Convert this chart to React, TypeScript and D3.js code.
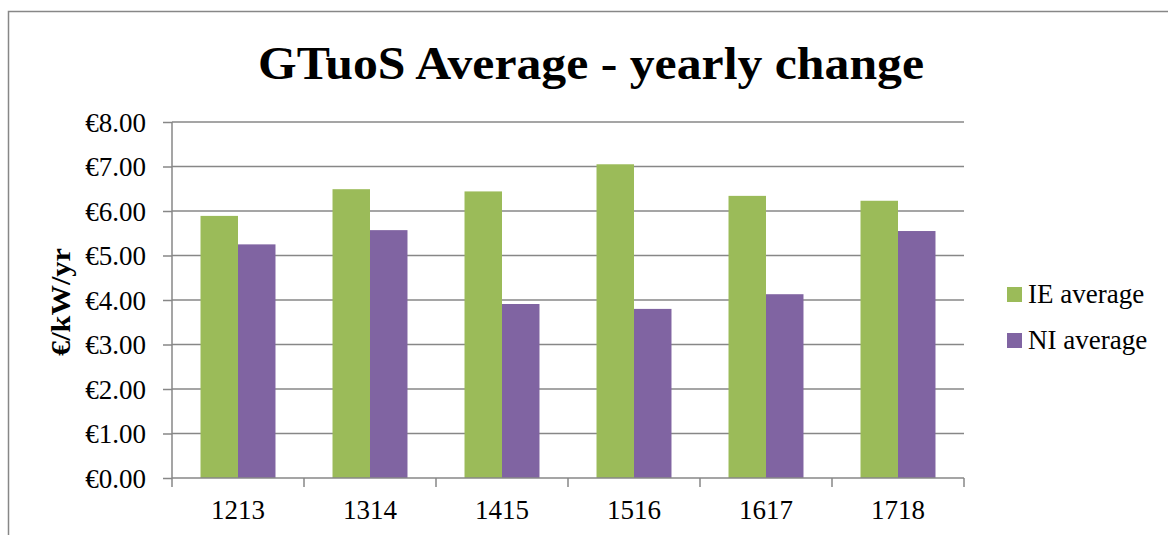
import { useEffect, useRef } from 'react';
import * as d3 from 'd3';

const categories = ['1213', '1314', '1415', '1516', '1617', '1718'];
const ieAverage = [5.89, 6.49, 6.44, 7.05, 6.34, 6.23];
const niAverage = [5.25, 5.57, 3.91, 3.8, 4.13, 5.55];
const yTicks = [0, 1, 2, 3, 4, 5, 6, 7, 8];
const seriesNames = ['IE average', 'NI average'];
const seriesColors = ['#9BBB59', '#8064A2'];

const W = 1168;
const H = 535;
const FONT = '"Liberation Serif", "DejaVu Serif", serif';
const GRID = '#878787';

export default function App() {
  const svgRef = useRef<SVGSVGElement>(null);

  useEffect(() => {
    if (!svgRef.current) return;
    const svg = d3.select(svgRef.current);
    svg.selectAll('*').remove();

    const plot = { left: 172, right: 964, top: 122, bottom: 478 };

    // outer chart border (only top + left visible in the crop)
    svg.append('rect')
      .attr('x', 8.5).attr('y', 11.5)
      .attr('width', 1400).attr('height', 800)
      .attr('fill', '#fff')
      .attr('stroke', GRID)
      .attr('stroke-width', 1.5);

    svg.append('text')
      .attr('x', 591).attr('y', 79)
      .attr('text-anchor', 'middle')
      .attr('font-family', FONT)
      .attr('font-weight', 'bold')
      .attr('font-size', 46)
      .attr('textLength', 666)
      .attr('lengthAdjust', 'spacingAndGlyphs')
      .text('GTuoS Average - yearly change');

    const y = d3.scaleLinear().domain([0, 8]).range([plot.bottom, plot.top]);
    const x0 = d3.scaleBand<string>()
      .domain(categories)
      .range([plot.left, plot.right])
      .paddingInner(0.432)
      .paddingOuter(0.216);
    const x1 = d3.scaleBand<string>()
      .domain(seriesNames)
      .range([0, x0.bandwidth()]);

    // gridlines
    svg.append('g')
      .selectAll('line')
      .data(yTicks.slice(1))
      .join('line')
      .attr('x1', plot.left).attr('x2', plot.right)
      .attr('y1', d => y(d)).attr('y2', d => y(d))
      .attr('stroke', GRID)
      .attr('stroke-width', 1.5);

    // bars
    const groups = svg.append('g')
      .selectAll('g')
      .data(categories)
      .join('g')
      .attr('transform', d => `translate(${x0(d)},0)`);

    groups.selectAll('rect')
      .data((d, i) => [
        { key: seriesNames[0], v: ieAverage[i], c: seriesColors[0] },
        { key: seriesNames[1], v: niAverage[i], c: seriesColors[1] },
      ])
      .join('rect')
      .attr('x', d => x1(d.key)!)
      .attr('width', x1.bandwidth())
      .attr('y', d => y(d.v))
      .attr('height', d => y(0) - y(d.v))
      .attr('fill', d => d.c);

    // y axis
    const yAxis = svg.append('g')
      .attr('transform', `translate(${plot.left},0)`)
      .call(d3.axisLeft(y).tickValues(yTicks).tickSize(9).tickPadding(17)
        .tickFormat(d => `€${(d as number).toFixed(2)}`));
    yAxis.select('.domain').attr('stroke', GRID).attr('stroke-width', 1.5)
      .attr('d', `M0,${plot.top}V${plot.bottom}`);
    yAxis.selectAll('.tick line').attr('stroke', GRID).attr('stroke-width', 1.5);
    yAxis.selectAll('.tick text')
      .attr('font-family', FONT).attr('font-size', 27).attr('fill', '#000')
      .attr('dy', '0.34em');

    // x axis
    const xAxis = svg.append('g')
      .attr('transform', `translate(0,${plot.bottom})`)
      .call(d3.axisBottom(x0).tickSize(0).tickPadding(22));
    xAxis.select('.domain').attr('stroke', GRID).attr('stroke-width', 1.5)
      .attr('d', `M${plot.left},0H${plot.right}`);
    xAxis.selectAll('.tick text')
      .attr('font-family', FONT).attr('font-size', 27).attr('fill', '#000')
      .attr('dy', '0.71em');

    // category separator ticks
    const step = x0.step();
    svg.append('g')
      .selectAll('line')
      .data(d3.range(categories.length + 1))
      .join('line')
      .attr('x1', i => plot.left + i * step).attr('x2', i => plot.left + i * step)
      .attr('y1', plot.bottom).attr('y2', plot.bottom + 9)
      .attr('stroke', GRID).attr('stroke-width', 1.5);

    // axis title
    svg.append('text')
      .attr('transform', `translate(70,${(plot.top + plot.bottom) / 2 + 2}) rotate(-90)`)
      .attr('text-anchor', 'middle')
      .attr('font-family', FONT)
      .attr('font-weight', 'bold')
      .attr('font-size', 28)
      .attr('textLength', 108)
      .attr('lengthAdjust', 'spacingAndGlyphs')
      .text('€/kW/yr');

    // legend
    const legend = svg.append('g')
      .selectAll('g')
      .data(seriesNames)
      .join('g')
      .attr('transform', (d, i) => `translate(1007,${287 + i * 46})`);
    legend.append('rect')
      .attr('width', 15).attr('height', 15)
      .attr('fill', (d, i) => seriesColors[i]);
    legend.append('text')
      .attr('x', 21).attr('y', 16)
      .attr('font-family', FONT)
      .attr('font-size', 27)
      .text(d => d);
  }, []);

  return (
    <svg
      ref={svgRef}
      width={W}
      height={H}
      style={{ position: 'fixed', left: 0, top: 0, background: '#fff' }}
    />
  );
}
